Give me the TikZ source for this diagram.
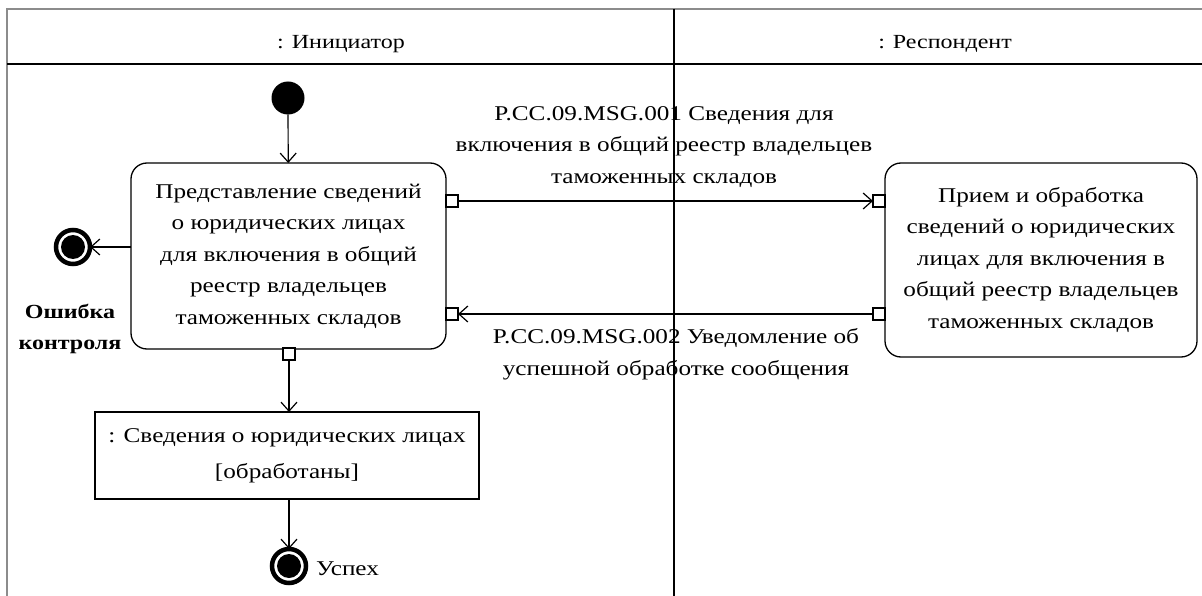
\documentclass[tikz,border=0pt]{standalone}
\usepackage{fontspec}
\setmainfont{Liberation Serif}[FakeStretch=1.2]
\usetikzlibrary{arrows.meta}
\begin{document}
\begin{tikzpicture}[x=1pt,y=-1pt,
  every node/.style={inner sep=0pt,outer sep=0pt},
  frame/.style={draw=black!45,line width=2pt},
  lane/.style={draw=black,line width=1.3pt},
  action/.style={draw=black,line width=1.3pt,rounded corners=16pt,align=center,
    font=\fontsize{21}{31.5}\selectfont},
  objbox/.style={draw=black,line width=1.3pt,align=center,
    font=\fontsize{21}{36}\selectfont},
  pinbox/.style={draw=black,fill=white,line width=1.3pt,minimum size=12pt},
  conn/.style={draw=black,line width=1.2pt,-{Straight Barb[length=9pt,width=16pt,line width=1.2pt]}},
  lbl/.style={align=center,font=\fontsize{21}{31.5}\selectfont},
  hdr/.style={font=\fontsize{20}{24}\selectfont},
  initnode/.style={circle,fill=black,minimum size=33pt},
  finalnode/.style={circle,draw=black,line width=4.5pt,minimum size=34pt,
    path picture={\fill[black] (path picture bounding box.center) circle (12pt);}}
]
\useasboundingbox (0,0) rectangle (1202,596);
% frame and lanes
\draw[frame] (7,610) -- (7,9) -- (1215,9);
\draw[lane] (7,64) -- (1215,64);
\draw[lane] (674,9) -- (674,610);
\node[hdr] (h1) at (341,44) {: Инициатор};
\node[hdr] (h2) at (945,44) {: Респондент};
% nodes
\node[initnode] (init) at (288,98) {};
\node[action,minimum width=315pt,minimum height=186pt] (a1) at (288.5,256)
  {Представление сведений\\о юридических лицах\\для включения в общий\\реестр владельцев\\таможенных складов};
\node[action,minimum width=312pt,minimum height=194pt] (a2) at (1041,260)
  {Прием и обработка\\сведений о юридических\\лицах для включения в\\общий реестр владельцев\\таможенных складов};
\node[pinbox] (p1) at (452,201) {};
\node[pinbox] (p2) at (879,201) {};
\node[pinbox] (p3) at (452,314) {};
\node[pinbox] (p4) at (879,314) {};
\node[pinbox] (p5) at (289,354) {};
\node[objbox,minimum width=384pt,minimum height=87pt] (obj) at (287,455.5)
  {: Сведения о юридических лицах\\{[обработаны]}};
\node[finalnode] (err) at (73,247) {};
\node[finalnode] (succ) at (289,566) {};
% labels
\node[lbl,font=\bfseries\fontsize{20}{31}\selectfont] (errl) at (70,329) {Ошибка\\контроля};
\node[lbl,anchor=west] (succl) at (316,569) {Успех};
\node[lbl] (m1) at (664,147) {P.CC.09.MSG.001 Сведения для\\включения в общий реестр владельцев\\таможенных складов};
\node[lbl] (m2) at (676,354) {P.CC.09.MSG.002 Уведомление об\\успешной обработке сообщения};
% connectors
\draw[conn] (init) -- (a1);
\draw[conn] (a1.west |- err) -- (err);
\draw[conn] (p1.east) -- (p2.west);
\draw[conn] (p4.west) -- (p3.east);
\draw[conn] (p5.south) -- (p5.south |- obj.north);
\draw[conn] (obj.south -| succ) -- (succ);
\end{tikzpicture}
\end{document}
